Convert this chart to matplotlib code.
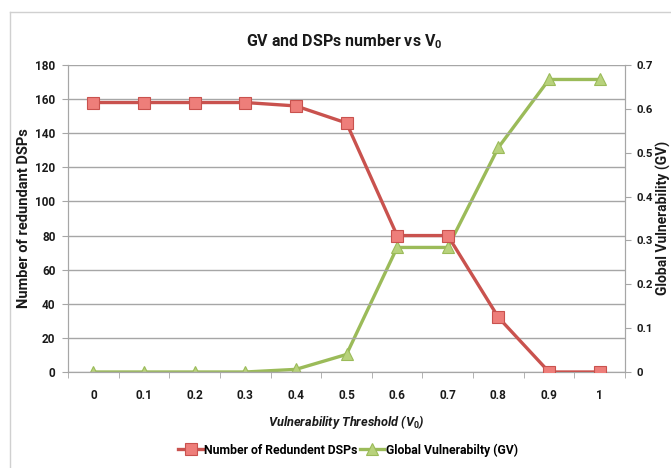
import matplotlib
matplotlib.use("Agg")
import matplotlib.pyplot as plt
from matplotlib.lines import Line2D

FONT = 'Roboto'
plt.rcParams['font.family'] = [FONT, 'DejaVu Sans']
plt.rcParams['mathtext.fontset'] = 'custom'
plt.rcParams['mathtext.rm'] = FONT + ':bold'
plt.rcParams['mathtext.it'] = FONT + ':italic:bold'
plt.rcParams['mathtext.bf'] = FONT + ':bold'

thresholds = ["0", "0.1", "0.2", "0.3", "0.4", "0.5", "0.6", "0.7", "0.8", "0.9", "1"]
redundant_dsps = [158, 158, 158, 158, 156, 146, 80, 80, 32, 0, 0]
global_vuln = [0.0, 0.0, 0.0, 0.0, 0.006, 0.04, 0.284, 0.284, 0.512, 0.667, 0.667]
left_ticks = [0, 20, 40, 60, 80, 100, 120, 140, 160, 180]
right_ticks = [0, 0.1, 0.2, 0.3, 0.4, 0.5, 0.6, 0.7]

red_line = '#c9524e'
red_face = '#ee7e7a'
green_line = '#9bbb59'
green_face = '#b8d27c'
grid_col = '#a6a6a6'
txt = '#1a1a1a'

fig = plt.figure(figsize=(6.71, 4.68), dpi=100)
ax = fig.add_axes([68/671, 1-372/468, (625-68)/671, (372-65)/468])
ax2 = ax.twinx()

x = list(range(len(thresholds)))
ax.plot(x, redundant_dsps, color=red_line, lw=2.4, marker='s', ms=8.5,
        mfc=red_face, mec=red_line, mew=0.8, zorder=3)
ax2.plot(x, global_vuln, color=green_line, lw=2.4, marker='^', ms=9,
         mfc=green_face, mec=green_line, mew=0.8, zorder=3)
ax.set_zorder(ax2.get_zorder() + 1)
ax.patch.set_visible(False)

ax.set_xlim(-0.5, len(thresholds) - 0.5)
ax.set_ylim(0, 180)
ax.set_yticks(left_ticks)
ax2.set_ylim(0, 0.7)
ax2.set_yticks(right_ticks)
ax2.set_yticklabels([('%g' % v) for v in right_ticks])

ax.set_xticks(x)
ax.set_xticklabels(thresholds)
ax.set_xticks([i - 0.5 for i in range(len(thresholds) + 1)], minor=True)
ax.tick_params(axis='x', which='major', length=0, pad=12)
ax.tick_params(axis='x', which='minor', length=4, color=grid_col, direction='out')
ax.tick_params(axis='y', length=4, color=grid_col, pad=5)
ax2.tick_params(axis='y', length=4, color=grid_col, pad=4)
for a in (ax, ax2):
    for lab in a.get_xticklabels() + a.get_yticklabels():
        lab.set_fontweight('bold')
        lab.set_fontsize(8.5)
        lab.set_color(txt)
for lab in ax2.get_yticklabels():
    lab.set_fontsize(8.2)

ax.grid(axis='y', color=grid_col, lw=1)
ax.set_axisbelow(True)
for a in (ax, ax2):
    a.spines['top'].set_visible(False)
    a.spines['left'].set_color(grid_col)
    a.spines['right'].set_color(grid_col)
    a.spines['bottom'].set_color(grid_col)

ax.set_ylabel('Number of redundant DSPs', fontsize=10.5, fontweight='bold', color=txt)
ax.yaxis.set_label_coords((31-68)/557, 0.5)
fig.text(663/671, 1-218/468, 'Global Vulnerability (GV)', fontsize=10, fontweight='bold',
         color=txt, rotation=90, ha='center', va='center')
ax.set_xlabel(r'Vulnerability Threshold (V$_{\mathit{0}}$)', fontsize=9.2, fontweight='bold',
              fontstyle='italic', color=txt, labelpad=8)
fig.text(344/671, 1-42/468, r'GV and DSPs number vs V$_{\mathrm{0}}$', ha='center', va='center',
         fontsize=11.5, fontweight='bold', color=txt)

handles = [
    Line2D([], [], color=red_line, lw=2.4, marker='s', ms=8.5, mfc=red_face, mec=red_line, mew=0.8),
    Line2D([], [], color=green_line, lw=2.4, marker='^', ms=9, mfc=green_face, mec=green_line, mew=0.8),
]
fig.legend(handles, ['Number of Redundent DSPs', 'Global Vulnerabilty (GV)'],
           loc='center', bbox_to_anchor=(348/671, 1-450/468), ncol=2, frameon=False,
           handlelength=2.0, handletextpad=0.1, columnspacing=0.2,
           prop={'size': 8.8, 'weight': 'bold'})

fig.add_artist(Line2D([10/671, 10/671], [0, 1-12/468], color='#d0d0d0', lw=1))
fig.add_artist(Line2D([10/671, 1], [1-12/468, 1-12/468], color='#d0d0d0', lw=1))

fig.savefig('out.png', dpi=100)
